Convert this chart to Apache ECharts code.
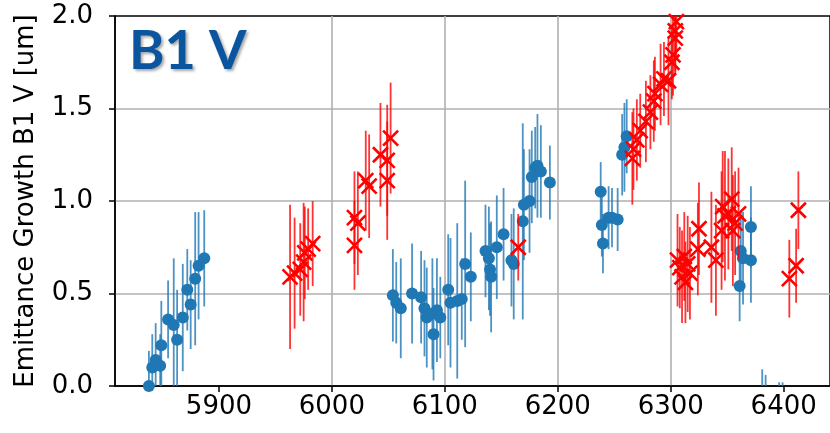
<!DOCTYPE html>
<html>
<head>
<meta charset="utf-8">
<script src="https://cdn.jsdelivr.net/npm/echarts@6/dist/echarts.min.js"></script>
<style>
html,body{margin:0;padding:0;background:#fff;}
#chart{width:830px;height:433px;}
</style>
</head>
<body>
<div id="chart"></div>
<script>
// ---- data ----
const titleText = 'B1 V';
const yAxisName = 'Emittance Growth B1 V [um]';
const xTicks = [5900, 6000, 6100, 6200, 6300, 6400];
const yTicks = [0.0, 0.5, 1.0, 1.5, 2.0];

const blueX = [5838, 5841, 5844, 5848, 5849, 5855, 5860, 5863, 5868, 5872, 5875, 5879, 5882, 5887,
  6054, 6057, 6061, 6071, 6079, 6082, 6084, 6089, 6090, 6093, 6096, 6103, 6105, 6111, 6115, 6118, 6123,
  6136, 6139, 6140, 6141, 6146, 6152, 6159, 6161, 6169, 6170, 6175, 6177, 6180, 6182, 6185, 6193,
  6238, 6239, 6240, 6245, 6248, 6253, 6257, 6259, 6261,
  6361, 6362, 6364, 6371, 6371,
  6381, 6384, 6396, 6399];
const blueY = [0.00, 0.10, 0.14, 0.11, 0.22, 0.36, 0.33, 0.25, 0.37, 0.52, 0.44, 0.58, 0.65, 0.69,
  0.49, 0.45, 0.42, 0.50, 0.48, 0.42, 0.37, 0.39, 0.28, 0.41, 0.37, 0.52, 0.45, 0.46, 0.47, 0.66, 0.59,
  0.73, 0.69, 0.63, 0.59, 0.75, 0.82, 0.68, 0.66, 0.89, 0.98, 1.00, 1.13, 1.18, 1.19, 1.16, 1.10,
  1.05, 0.87, 0.77, 0.91, 0.91, 0.90, 1.25, 1.29, 1.35,
  0.54, 0.73, 0.69, 0.86, 0.68,
  -0.15, -0.20, -0.20, -0.22];
const blueErr = [0.19, 0.18, 0.20, 0.17, 0.24, 0.21, 0.36, 0.27, 0.29, 0.22, 0.24, 0.36, 0.29, 0.26,
  0.25, 0.22, 0.27, 0.27, 0.25, 0.26, 0.27, 0.30, 0.25, 0.28, 0.22, 0.30, 0.35, 0.42, 0.22, 0.45, 0.24,
  0.25, 0.28, 0.25, 0.30, 0.28, 0.25, 0.25, 0.30, 0.53, 0.30, 0.28, 0.25, 0.22, 0.28, 0.25, 0.20,
  0.16, 0.17, 0.16, 0.17, 0.16, 0.17, 0.22, 0.24, 0.20,
  0.19, 0.22, 0.25, 0.22, 0.23,
  0.24, 0.26, 0.22, 0.24];

const redX = [5963, 5967, 5972, 5975, 5976, 5979, 5983,
  6020, 6023, 6020, 6030, 6033, 6043, 6049, 6049, 6052,
  6165,
  6266, 6267, 6270, 6273, 6278, 6282, 6285, 6286, 6291, 6294, 6298, 6301, 6302, 6304, 6304, 6305,
  6306, 6308, 6310, 6312, 6313, 6315, 6317, 6324, 6325,
  6336, 6340, 6345, 6346, 6348, 6351, 6354, 6355, 6357, 6360,
  6405, 6411, 6413];
const redY = [0.59, 0.61, 0.63, 0.67, 0.72, 0.74, 0.77,
  0.91, 0.88, 0.76, 1.11, 1.08, 1.25, 1.22, 1.11, 1.34,
  0.75,
  1.23, 1.28, 1.33, 1.38, 1.43, 1.48, 1.54, 1.58, 1.63, 1.66, 1.65, 1.75, 1.79, 1.88, 1.92, 1.97,
  0.68, 0.64, 0.59, 0.70, 0.56, 0.66, 0.61, 0.74, 0.85,
  0.75, 0.68, 0.84, 0.97, 0.92, 0.93, 1.01, 0.84, 0.88, 0.93,
  0.58, 0.65, 0.95];
const redErr = [0.39, 0.30, 0.25, 0.32, 0.25, 0.22, 0.23,
  0.25, 0.28, 0.24, 0.27, 0.28, 0.28, 0.30, 0.32, 0.30,
  0.18,
  0.25, 0.22, 0.22, 0.20, 0.22, 0.20, 0.22, 0.20, 0.22, 0.20, 0.24, 0.20, 0.22, 0.20, 0.22, 0.20,
  0.25, 0.22, 0.25, 0.24, 0.22, 0.26, 0.25, 0.25, 0.25,
  0.30, 0.30, 0.32, 0.30, 0.35, 0.30, 0.28, 0.30, 0.28, 0.25,
  0.21, 0.20, 0.21];

// ---- build series data ----
function pts(xs, ys) { return xs.map((x, i) => [x, ys[i]]); }
function bars(xs, ys, es) { return xs.map((x, i) => [x, ys[i] - es[i], ys[i] + es[i]]); }

function errRender(color) {
  return function (params, api) {
    const p0 = api.coord([api.value(0), api.value(1)]);
    const p1 = api.coord([api.value(0), api.value(2)]);
    return {
      type: 'line',
      shape: { x1: p0[0], y1: p0[1], x2: p1[0], y2: p1[1] },
      style: { stroke: color, lineWidth: 1.8, opacity: 0.8 }
    };
  };
}

const FONT = 'DejaVu Sans';
const chart = echarts.init(document.getElementById('chart'), null, { renderer: 'canvas' });
chart.setOption({
  animation: false,
  backgroundColor: '#fff',
  title: {
    text: titleText, left: 124, top: 20,
    textStyle: {
      fontFamily: 'Lato', fontWeight: 'bold', fontSize: 54, color: '#0b559f',
      textShadowColor: 'rgba(0,0,0,0.35)', textShadowBlur: 3, textShadowOffsetX: 2, textShadowOffsetY: 2
    }
  },
  grid: { left: 115, top: 16, bottom: 47, right: -6, show: true, borderColor: '#000', borderWidth: 1.5, backgroundColor: 'transparent' },
  xAxis: {
    type: 'value', min: 5808, max: 6441,
    axisLine: { show: true, onZero: false, lineStyle: { color: '#000', width: 1.5 } },
    axisTick: { show: true, length: 6, lineStyle: { color: '#000', width: 1.5 }, customValues: xTicks },
    axisLabel: { customValues: xTicks, fontFamily: FONT, fontSize: 26, color: '#000', margin: 8, formatter: v => String(v) },
    splitLine: { show: true, showMinLine: false, showMaxLine: false, lineStyle: { color: '#b0b0b0', width: 1.6 } }
  },
  yAxis: {
    type: 'value', min: 0, max: 2, interval: 0.5,
    name: yAxisName, nameLocation: 'middle', nameGap: 76, nameRotate: 90,
    nameTextStyle: { fontFamily: FONT, fontSize: 26, color: '#000' },
    axisLine: { show: true, lineStyle: { color: '#000', width: 1.5 } },
    axisTick: { show: true, length: 6, lineStyle: { color: '#000', width: 1.5 } },
    axisLabel: { fontFamily: FONT, fontSize: 26, color: '#000', margin: 22, formatter: v => v.toFixed(1) },
    splitLine: { show: true, showMinLine: false, showMaxLine: false, lineStyle: { color: '#b0b0b0', width: 1.6 } }
  },
  series: [
    { type: 'custom', data: bars(blueX, blueY, blueErr), renderItem: errRender('#1f77b4'), clip: true, z: 2 },
    { type: 'scatter', data: pts(blueX, blueY), symbol: 'circle', symbolSize: 12, itemStyle: { color: '#1f77b4', opacity: 1 }, clip: true, z: 3 },
    { type: 'custom', data: bars(redX, redY, redErr), renderItem: errRender('#ff0000'), clip: true, z: 4 },
    { type: 'scatter', data: pts(redX, redY), symbol: 'path://M0 0L10 10M10 0L0 10', symbolSize: 15,
      itemStyle: { color: 'none', borderColor: '#ff0000', borderWidth: 2.6, opacity: 1 }, clip: true, z: 5 }
  ]
});
</script>
</body>
</html>
